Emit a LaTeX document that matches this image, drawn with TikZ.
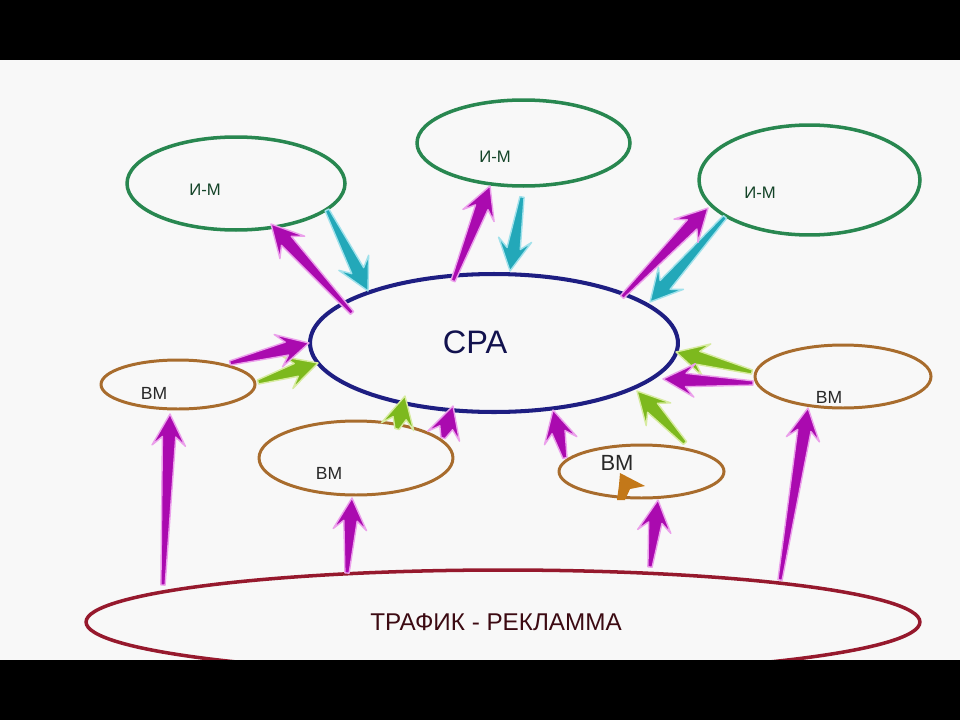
\documentclass[tikz,border=0pt]{standalone}
\usepackage{fontspec}
\setmainfont{Liberation Sans}
\usetikzlibrary{calc,shapes.geometric}
\definecolor{bgc}{RGB}{248,248,248}
\definecolor{navyc}{RGB}{30,30,130}
\definecolor{imc}{RGB}{40,135,80}
\definecolor{bmc}{RGB}{168,108,45}
\definecolor{trc}{RGB}{150,25,45}
\definecolor{magc}{RGB}{170,10,175}
\definecolor{magg}{RGB}{235,160,235}
\definecolor{tealc}{RGB}{35,168,185}
\definecolor{tealg}{RGB}{160,225,235}
\definecolor{grnc}{RGB}{125,185,30}
\definecolor{grng}{RGB}{215,235,160}
\definecolor{orc}{RGB}{195,120,25}
\definecolor{txtc}{RGB}{40,40,40}
\newcommand\spear[3]{%
  \filldraw[#1] ($(#2)!1.2pt!90:(#3)$)
   -- ($(#3)!13pt!(#2)!3.8pt!90:(#3)$)
   -- ($(#3)!18pt!(#2)!9.5pt!90:(#3)$)
   -- (#3)
   -- ($(#3)!18pt!(#2)!9.5pt!-90:(#3)$)
   -- ($(#3)!13pt!(#2)!3.8pt!-90:(#3)$)
   -- ($(#2)!1.2pt!-90:(#3)$) -- cycle;}
\tikzset{
  ell/.style={ellipse, draw, inner sep=0pt},
  cpastyle/.style={ell, draw=navyc, line width=2.3pt},
  imstyle/.style={ell, draw=imc, line width=2pt},
  bmstyle/.style={ell, draw=bmc, line width=1.7pt},
  trstyle/.style={ell, draw=trc, line width=2pt},
  mag/.style={fill=magc, draw=magg, line width=0.8pt, line join=round},
  teal/.style={fill=tealc, draw=tealg, line width=0.8pt, line join=round},
  grn/.style={fill=grnc, draw=grng, line width=0.8pt, line join=round},
  lbl/.style={inner sep=0pt, text=txtc}
}
\begin{document}
\begin{tikzpicture}[x=0.02cm, y=-0.02cm]
\useasboundingbox (0,0) rectangle (960,720);
\fill[bgc] (0,0) rectangle (960,720);

% ellipses
\node[cpastyle, minimum width=7.36cm, minimum height=2.76cm] (cpa) at (494,343) {};
\node[imstyle, minimum width=4.36cm, minimum height=1.86cm] (im1) at (236,183.5) {};
\node[imstyle, minimum width=4.26cm, minimum height=1.72cm] (im2) at (523.5,143) {};
\node[imstyle, minimum width=4.42cm, minimum height=2.2cm] (im3) at (809.5,180) {};
\node[bmstyle, minimum width=3.08cm, minimum height=0.98cm] (bm1) at (178,384.5) {};
\node[bmstyle, minimum width=3.88cm, minimum height=1.48cm] (bm2) at (356,458) {};
\node[bmstyle, minimum width=3.3cm, minimum height=1.06cm] (bm3) at (641.5,471.5) {};
\node[bmstyle, minimum width=3.52cm, minimum height=1.26cm] (bm4) at (843,376.5) {};
\node[trstyle, minimum width=16.68cm, minimum height=2.08cm] (tr) at (503,622) {};

% labels
\node[lbl, text=navyc!60!black, font=\fontsize{18.5}{20}\selectfont] (tcpa) at (475,342) {CPA};
\node[lbl, text=imc!50!black, font=\fontsize{9.5}{11}\selectfont] (tim1) at (205,190) {И-М};
\node[lbl, text=imc!50!black, font=\fontsize{9.5}{11}\selectfont] (tim2) at (495,157) {И-М};
\node[lbl, text=imc!50!black, font=\fontsize{9.5}{11}\selectfont] (tim3) at (760,193) {И-М};
\node[lbl, font=\fontsize{10}{11}\selectfont] (tbm1) at (154,393) {ВМ};
\node[lbl, font=\fontsize{10}{11}\selectfont] (tbm2) at (329,473) {ВМ};
\node[lbl, font=\fontsize{12.5}{14}\selectfont] (tbm3) at (617,463) {ВМ};
\node[lbl, font=\fontsize{10}{11}\selectfont] (tbm4) at (829,397) {ВМ};
\node[lbl, text=trc!40!black, font=\fontsize{13.8}{15}\selectfont] (ttr) at (496,622) {ТРАФИК - РЕКЛАММА};

% orange marker inside bm3
\fill[orc] (620,473) -- (645,486) -- (630,489) -- (625,500) -- (617,500) -- (619,485) -- cycle;

% arrow end points
\coordinate (m1s) at (352,313);  \coordinate (m1e) at (271,224);
\coordinate (m2s) at (453,281);  \coordinate (m2e) at (490,186);
\coordinate (m3s) at (622,297);  \coordinate (m3e) at (708,208);
\coordinate (m4s) at (230,363);  \coordinate (m4e) at (309,343);
\coordinate (m5s) at (443,438);  \coordinate (m5e) at (453,406);
\coordinate (m6s) at (565,458);  \coordinate (m6e) at (553,410);
\coordinate (m7s) at (753,383);  \coordinate (m7e) at (663,379);
\coordinate (m8s) at (163,585);  \coordinate (m8e) at (170,414);
\coordinate (m9s) at (347,573);  \coordinate (m9e) at (352,498);
\coordinate (m10s) at (650,567); \coordinate (m10e) at (658,500);
\coordinate (m11s) at (780,580); \coordinate (m11e) at (808,408);
\coordinate (t1s) at (327,210);  \coordinate (t1e) at (368,291);
\coordinate (t2s) at (522,197);  \coordinate (t2e) at (510,271);
\coordinate (t3s) at (725,217);  \coordinate (t3e) at (650,302);
\coordinate (g1s) at (258,382);  \coordinate (g1e) at (318,363);
\coordinate (g2s) at (397,429);  \coordinate (g2e) at (405,396);
\coordinate (g3s) at (685,443);  \coordinate (g3e) at (637,391);
\coordinate (g4s) at (752,372);  \coordinate (g4e) at (676,352);

\spear{teal}{t1s}{t1e}
\spear{teal}{t2s}{t2e}
\spear{teal}{t3s}{t3e}
\spear{grn}{g1s}{g1e}
\spear{grn}{g2s}{g2e}
\spear{grn}{g3s}{g3e}
\spear{grn}{g4s}{g4e}
\spear{mag}{m1s}{m1e}
\spear{mag}{m2s}{m2e}
\spear{mag}{m3s}{m3e}
\spear{mag}{m4s}{m4e}
\spear{mag}{m5s}{m5e}
\spear{mag}{m6s}{m6e}
\spear{mag}{m7s}{m7e}
\spear{mag}{m8s}{m8e}
\spear{mag}{m9s}{m9e}
\spear{mag}{m10s}{m10e}
\spear{mag}{m11s}{m11e}

% black bars
\fill[black] (0,0) rectangle (960,60);
\fill[black] (0,660) rectangle (960,720);
\end{tikzpicture}
\end{document}
